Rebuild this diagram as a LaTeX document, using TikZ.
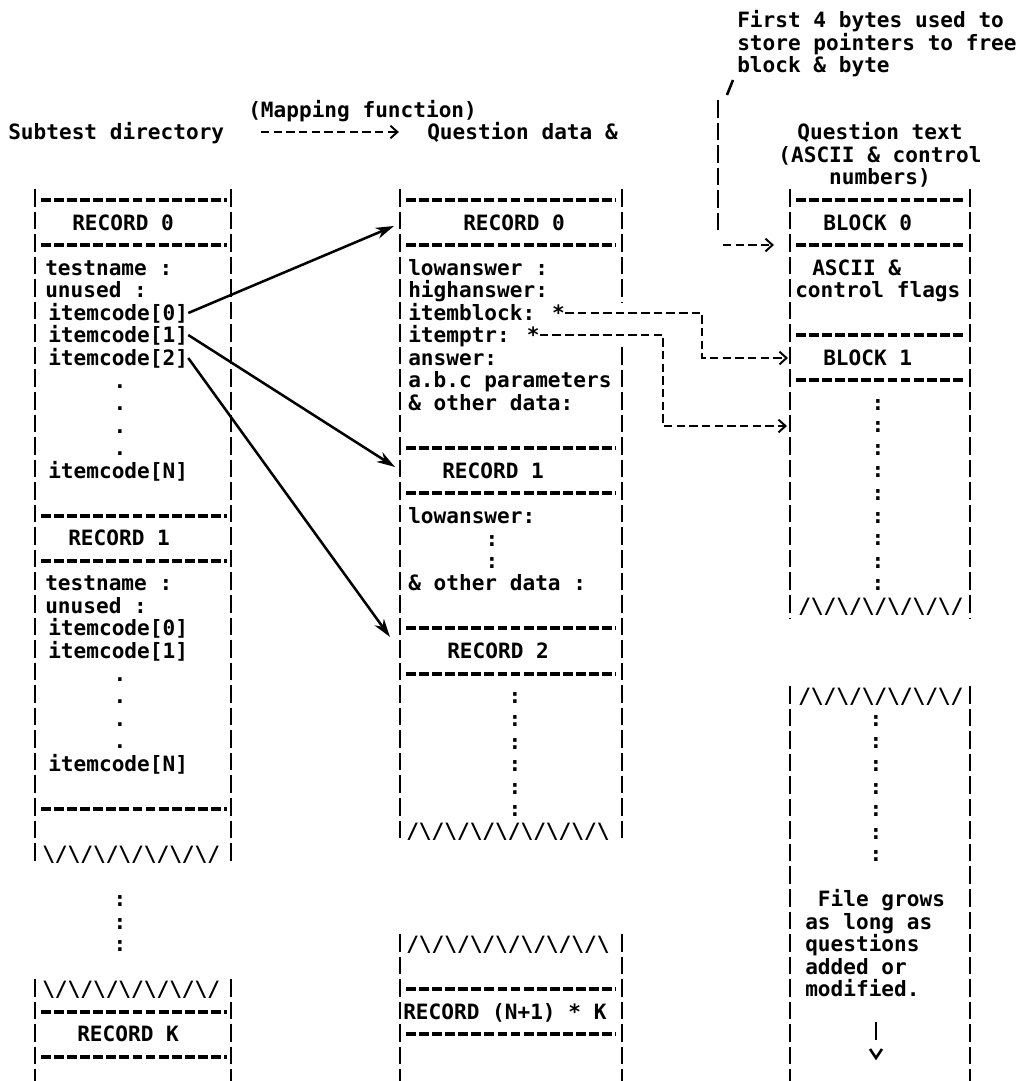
\documentclass[tikz,border=0pt]{standalone}
\usepackage{fontspec}
\usetikzlibrary{arrows.meta}
\newfontfamily\typefont{DejaVu Sans Mono}
\newcommand{\tyfont}{\typefont\bfseries\fontsize{15}{16.04}\selectfont}
\newcommand*{\zzb}{\textbackslash}

\begin{document}
\begin{tikzpicture}[x=0.025cm, y=-0.025cm,
    txt/.style={font=\tyfont, inner sep=0pt, text height=10.9pt, text depth=0pt, anchor=base west, yshift=-5.45pt},
    stack/.style={font=\tyfont, inner sep=0pt, align=center, anchor=base, yshift=-5.45pt},
    wall/.style={black, line width=2pt, dash pattern=on 12.5pt off 3.54pt},
    dashrow/.style={black, line width=2.4pt, dash pattern=on 7pt off 2.3pt},
    ptr/.style={black, line width=1.8pt, -{Stealth[length=13pt,width=8pt,inset=4pt]}},
    asc/.style={black, line width=1.4pt, dash pattern=on 6pt off 3pt, -{Straight Barb[length=5pt,width=9pt]}}]

    \useasboundingbox (0,0) rectangle (1028,1081);

    % encabezados (los bloques de varias lineas van por su ultima linea)
    \node[stack, anchor=base west, align=left] (note) at (737,65) {First 4 bytes used to\\store pointers to free\\block \& byte};
    \node[txt] (mapfn) at (248,110) {(Mapping function)};
    \node[txt] (subdir) at (8,132) {Subtest directory};
    \node[txt] (qdata) at (427,132) {Question data \&};
    \node[stack] (qtext) at (880,177) {Question text\\(ASCII \& control\\numbers)};
    \draw[asc, shorten <=26pt, shorten >=20pt] (subdir.east) -- (qdata.west);

    % nota -> BLOCK 0
    \coordinate (noteA) at (733,80);
    \coordinate (noteB) at (727,95);
    \coordinate (b0in) at (774,245);
    \draw[line width=1.8pt] (noteA) -- (noteB);
    \draw[wall] (718,100) -- (718,234);
    \draw[asc] (723,245) -- (b0in);

    % columna izquierda
    \draw[wall] (35,189) -- (35,863) (231,189) -- (231,863);
    \draw[wall] (35,979) -- (35,1081) (231,979) -- (231,1081);
    \draw[dashrow] (41,200) -- (227,200) (41,245) -- (227,245) (41,516) -- (227,516) (41,561) -- (227,561) (41,809) -- (227,809);
    \draw[dashrow] (41,1012) -- (227,1012) (41,1057) -- (227,1057);
    \node[txt] (lrec0) at (72,223) {RECORD 0};
    \node[txt] (ltn0) at (45,268) {testname :};
    \node[txt] (lun0) at (45,290) {unused :};
    \node[txt] (ic0) at (48,313) {itemcode[0]};
    \node[txt] (ic1) at (48,335) {itemcode[1]};
    \node[txt] (ic2) at (48,358) {itemcode[2]};
    \node[stack] (ldots0) at (120,448) {.\\.\\.\\.};
    \node[txt] (icN) at (48,471) {itemcode[N]};
    \node[txt] (lrec1) at (68,538) {RECORD 1};
    \node[txt] (ltn1) at (45,583) {testname :};
    \node[txt] (lun1) at (45,606) {unused :};
    \node[txt] (jc0) at (48,628) {itemcode[0]};
    \node[txt] (jc1) at (48,651) {itemcode[1]};
    \node[stack] (ldots1) at (120,741) {.\\.\\.\\.};
    \node[txt] (jcN) at (48,764) {itemcode[N]};
    \node[txt] (lzig0) at (42,854) {\zzb/\zzb/\zzb/\zzb/\zzb/\zzb/\zzb/};
    \node[stack] (lgap) at (120,944) {:\\:\\:};
    \node[txt] (lzig1) at (42,989) {\zzb/\zzb/\zzb/\zzb/\zzb/\zzb/\zzb/};
    \node[txt] (lrecK) at (77,1034) {RECORD K};

    % columna central
    \draw[wall] (400,189) -- (400,843) (622,189) -- (622,302) (622,347) -- (622,843);
    \draw[wall] (400,934) -- (400,1081) (622,934) -- (622,1081);
    \draw[dashrow] (406,200) -- (616,200) (406,245) -- (616,245) (406,448) -- (616,448) (406,493) -- (616,493);
    \draw[dashrow] (406,628) -- (616,628) (406,674) -- (616,674) (406,989) -- (616,989) (406,1034) -- (616,1034);
    \node[txt] (mrec0) at (463,223) {RECORD 0};
    \node[txt] (lowa0) at (408,268) {lowanswer :};
    \node[txt] (higha) at (408,290) {highanswer:};
    \node[txt] (iblk) at (408,313) {itemblock: *};
    \node[txt] (iptr) at (408,335) {itemptr: *};
    \node[txt] (answ) at (408,358) {answer:};
    \node[txt] (abc) at (408,380) {a.b.c parameters};
    \node[txt] (oth0) at (408,403) {\& other data:};
    \node[txt] (mrec1) at (442,471) {RECORD 1};
    \node[txt] (lowa1) at (408,516) {lowanswer:};
    \node[stack] (mcol0) at (492,561) {:\\:};
    \node[txt] (oth1) at (408,583) {\& other data :};
    \node[txt] (mrec2) at (447,651) {RECORD 2};
    \node[stack] (mcol1) at (515,809) {:\\:\\:\\:\\:\\:};
    \node[txt] (mzig0) at (406,831) {/\zzb/\zzb/\zzb/\zzb/\zzb/\zzb/\zzb/\zzb};
    \node[txt] (mzig1) at (406,944) {/\zzb/\zzb/\zzb/\zzb/\zzb/\zzb/\zzb/\zzb};
    \node[txt] (mrecNK) at (403,1012) {RECORD (N+1) * K};

    % columna derecha
    \draw[wall] (790,189) -- (790,618) (970,189) -- (970,618);
    \draw[wall] (790,686) -- (790,1081) (970,686) -- (970,1081);
    \draw[dashrow] (796,200) -- (965,200) (796,245) -- (965,245) (796,335) -- (965,335) (796,380) -- (965,380);
    \node[txt] (blk0) at (823,223) {BLOCK 0};
    \node[txt] (asc0) at (812,268) {ASCII \&};
    \node[txt] (ctl) at (795,290) {control flags};
    \node[txt] (blk1) at (823,358) {BLOCK 1};
    \node[stack] (rcol0) at (878,583) {:\\:\\:\\:\\:\\:\\:\\:\\:};
    \node[txt] (rzig0) at (798,606) {/\zzb/\zzb/\zzb/\zzb/\zzb/\zzb/};
    \node[txt] (rzig1) at (798,696) {/\zzb/\zzb/\zzb/\zzb/\zzb/\zzb/};
    \node[stack] (rcol1) at (876,854) {:\\:\\:\\:\\:\\:\\:};
    \node[stack, anchor=base west, align=left] (grow) at (805,989) {\phantom{F}File grows\\as long as\\questions\\added or\\modified.};
    \coordinate (growA) at (876,1022);
    \coordinate (growB) at (876,1040);
    \draw[line width=2pt] (growA) -- (growB);
    \draw[line width=1.8pt] (870,1049) -- (876,1058) -- (882,1049);

    % punteros
    \coordinate (m0) at (394,226);
    \coordinate (m1) at (395,467);
    \coordinate (m2) at (390,637);
    \draw[ptr] (ic0.east) -- (m0);
    \draw[ptr] (ic1.east) -- (m1);
    \draw[ptr] (ic2.east) -- (m2);

    \coordinate (b1in) at (788,358);
    \coordinate (b2in) at (787,426);
    \draw[asc] (iblk.east) -- (702,313) -- (702,358) -- (b1in);
    \draw[asc] (iptr.east) -- (663,335) -- (663,426) -- (b2in);

\end{tikzpicture}
\end{document}
